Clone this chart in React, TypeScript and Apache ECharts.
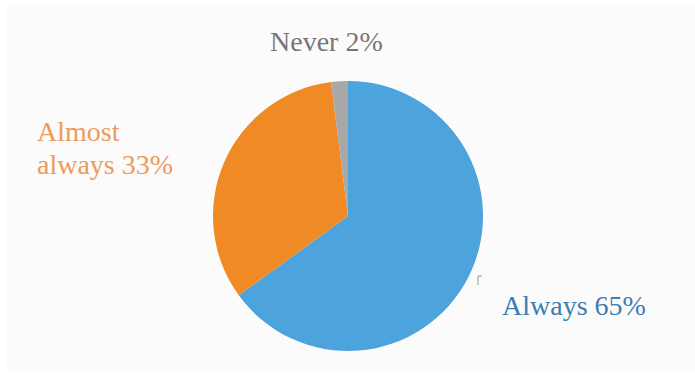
import React, { useEffect, useRef } from "react";
import * as echarts from "echarts";

const categories = ["Always", "Almost always", "Never"];
const values = [65, 33, 2];
const labelTexts = ["Always 65%", "Almost\nalways 33%", "Never 2%"];
const sliceColors = ["#4DA3DC", "#F08A24", "#A8A8A8"];
const labelColors = ["#3D7DB5", "#EE9A5C", "#7A7475"];

// label anchor positions (left x, vertical middle y)
const labelPos = [
  { x: 502, y: 305 },
  { x: 37, y: 148 },
  { x: 270, y: 41 },
];

const FONT = "Liberation Serif";

export default function App() {
  const ref = useRef<HTMLDivElement>(null);
  useEffect(() => {
    document.body.style.margin = "0";
    const chart = echarts.init(ref.current!, null, { renderer: "svg" });
    const rich: any = {};
    labelColors.forEach((c, i) => {
      rich["c" + i] = {
        color: c,
        fontFamily: FONT,
        fontSize: 28,
        lineHeight: 33,
      };
    });
    chart.setOption({
      animation: false,
      backgroundColor: "#ffffff",
      textStyle: { fontFamily: FONT },
      graphic: [
        {
          type: "rect",
          z: -10,
          shape: { x: 7, y: 4, width: 688, height: 368 },
          style: { fill: "#fbfbfb" },
          silent: true,
        },
        {
          type: "polyline",
          shape: { points: [[478, 285], [478, 276], [482, 276]] },
          style: { stroke: "#9a9a9a", lineWidth: 1, fill: "none" },
          silent: true,
        },
      ],
      series: [
        {
          type: "pie",
          center: [348, 216],
          radius: 135,
          startAngle: 90,
          clockwise: true,
          avoidLabelOverlap: false,
          data: categories.map((name, i) => ({
            name,
            value: values[i],
            itemStyle: { color: sliceColors[i] },
          })),
          label: {
            show: true,
            position: "outside",
            fontFamily: FONT,
            fontSize: 28,
            lineHeight: 33,
            rich,
            formatter: (p: any) =>
              labelTexts[p.dataIndex]
                .split("\n")
                .map((s) => `{c${p.dataIndex}|${s}}`)
                .join("\n"),
          },
          labelLine: { show: false },
          labelLayout: (params: any) => {
            const pos = labelPos[params.dataIndex];
            return {
              x: pos.x,
              y: pos.y,
              align: "left",
              verticalAlign: "middle",
            };
          },
        },
      ],
    });
    return () => chart.dispose();
  }, []);
  return (
    <div
      ref={ref}
      style={{ position: "fixed", left: 0, top: 0, width: 695, height: 376 }}
    />
  );
}
